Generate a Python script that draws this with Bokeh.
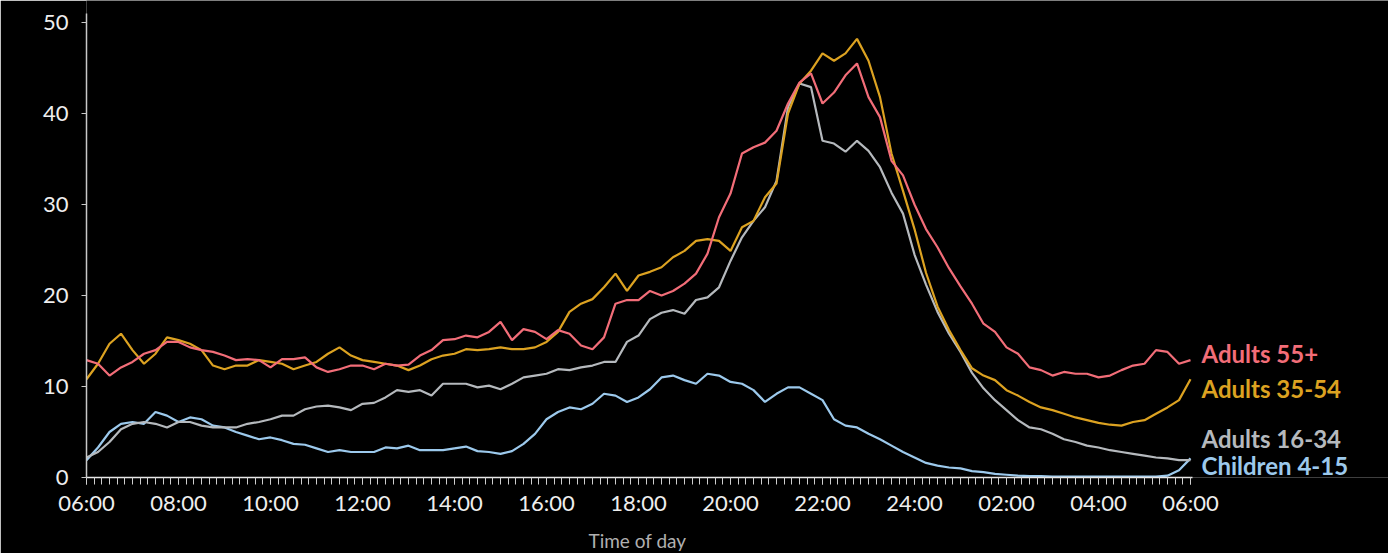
from bokeh.plotting import figure
from bokeh.models import Range1d, FixedTicker, ColumnDataSource, LabelSet, Title
from bokeh.core.properties import value
from bokeh.embed import file_html
from bokeh.resources import INLINE

# time of day in hours from 06:00 (6) to 06:00 next day (30), every 15 minutes
hours = [6 + i * 0.25 for i in range(97)]

adults_55 = [
    12.9, 12.5, 11.2, 12.1, 12.7, 13.6, 14.0, 14.9, 14.9, 14.3, 14.0, 13.8,
    13.4, 12.9, 13.0, 12.9, 12.1, 13.0, 13.0, 13.2, 12.1, 11.6, 11.9, 12.3,
    12.3, 11.9, 12.5, 12.3, 12.4, 13.4, 14.0, 15.1, 15.2, 15.6, 15.4, 16.0,
    17.1, 15.1, 16.3, 16.0, 15.2, 16.2, 15.8, 14.5, 14.1, 15.4, 19.1, 19.5,
    19.5, 20.5, 20.0, 20.5, 21.3, 22.4, 24.6, 28.6, 31.2, 35.6, 36.3, 36.8,
    38.1, 41.1, 43.4, 44.4, 41.1, 42.3, 44.2, 45.5, 41.8, 39.6, 34.8, 33.2,
    30.0, 27.3, 25.3, 23.0, 21.0, 19.1, 16.9, 16.0, 14.3, 13.6, 12.1, 11.8,
    11.2, 11.6, 11.4, 11.4, 11.0, 11.2, 11.8, 12.3, 12.5, 14.0, 13.8, 12.5,
    12.9,
]

adults_35_54 = [
    10.8, 12.5, 14.7, 15.8, 14.0, 12.5, 13.6, 15.4, 15.1, 14.7, 14.0, 12.3,
    11.9, 12.3, 12.3, 12.9, 12.7, 12.5, 11.9, 12.3, 12.7, 13.6, 14.3, 13.4,
    12.9, 12.7, 12.5, 12.3, 11.8, 12.3, 13.0, 13.4, 13.6, 14.1, 14.0, 14.1,
    14.3, 14.1, 14.1, 14.3, 14.9, 16.0, 18.2, 19.1, 19.6, 20.9, 22.4, 20.5,
    22.2, 22.6, 23.1, 24.2, 24.9, 26.0, 26.2, 26.0, 24.9, 27.5, 28.2, 30.8,
    32.3, 40.0, 43.3, 44.7, 46.6, 45.8, 46.6, 48.2, 45.8, 41.8, 35.6, 31.5,
    27.3, 22.5, 18.8, 16.2, 14.0, 12.0, 11.2, 10.7, 9.6, 9.0, 8.3, 7.7,
    7.4, 7.0, 6.6, 6.3, 6.0, 5.8, 5.7, 6.1, 6.3, 7.0, 7.7, 8.5,
    10.8,
]

adults_16_34 = [
    2.2, 2.8, 3.9, 5.3, 5.9, 6.1, 5.9, 5.5, 6.1, 6.1, 5.7, 5.5,
    5.5, 5.5, 5.9, 6.1, 6.4, 6.8, 6.8, 7.5, 7.8, 7.9, 7.7, 7.4,
    8.1, 8.2, 8.8, 9.6, 9.4, 9.6, 9.0, 10.3, 10.3, 10.3, 9.9, 10.1,
    9.7, 10.3, 11.0, 11.2, 11.4, 11.9, 11.8, 12.1, 12.3, 12.7, 12.7, 14.9,
    15.6, 17.4, 18.1, 18.4, 18.0, 19.5, 19.8, 20.9, 23.8, 26.4, 28.2, 29.7,
    32.6, 40.7, 43.3, 42.9, 37.0, 36.7, 35.8, 37.0, 35.9, 34.1, 31.3, 29.0,
    24.5, 21.2, 18.2, 15.8, 13.8, 11.5, 9.8, 8.5, 7.4, 6.3, 5.5, 5.3,
    4.8, 4.2, 3.9, 3.5, 3.3, 3.0, 2.8, 2.6, 2.4, 2.2, 2.1, 1.9,
    1.9,
]

children_4_15 = [
    1.9, 3.3, 5.0, 5.9, 6.1, 5.9, 7.2, 6.8, 6.1, 6.6, 6.4, 5.7,
    5.5, 5.0, 4.6, 4.2, 4.4, 4.1, 3.7, 3.6, 3.2, 2.8, 3.0, 2.8,
    2.8, 2.8, 3.3, 3.2, 3.5, 3.0, 3.0, 3.0, 3.2, 3.4, 2.9, 2.8,
    2.6, 2.9, 3.7, 4.8, 6.4, 7.2, 7.7, 7.5, 8.1, 9.2, 9.0, 8.3,
    8.8, 9.7, 11.0, 11.2, 10.7, 10.3, 11.4, 11.2, 10.5, 10.3, 9.6, 8.3,
    9.2, 9.9, 9.9, 9.2, 8.5, 6.4, 5.7, 5.5, 4.8, 4.2, 3.5, 2.8,
    2.2, 1.6, 1.3, 1.1, 1.0, 0.7, 0.6, 0.4, 0.3, 0.2, 0.15, 0.15,
    0.1, 0.1, 0.1, 0.1, 0.1, 0.1, 0.1, 0.1, 0.1, 0.1, 0.2, 0.8,
    2.1,
]

series_names = ["Children 4-15", "Adults 16-34", "Adults 35-54", "Adults 55+"]
series_values = [children_4_15, adults_16_34, adults_35_54, adults_55]
series_colors = ["#9cc9ec", "#b5b9bd", "#dca221", "#f26d78"]
# vertical positions (data units) of the end labels, spread to avoid overlap
label_y = [1.3, 4.3, 9.8, 13.6]

x_tick_values = [6, 8, 10, 12, 14, 16, 18, 20, 22, 24, 26, 28, 30]
x_tick_labels = ["06:00", "08:00", "10:00", "12:00", "14:00", "16:00", "18:00",
                 "20:00", "22:00", "24:00", "02:00", "04:00", "06:00"]
y_tick_values = [0, 10, 20, 30, 40, 50]

FONT = "Lato"

# frame reaches the top and right edges of the canvas so the end labels sit
# inside it; axes are limited with `bounds` to the drawn span
p = figure(
    frame_width=1302, frame_height=477,
    min_border_left=86, min_border_right=0, min_border_top=0, min_border_bottom=76,
    x_range=Range1d(6, 6 + 1302 / 46), y_range=Range1d(0, 477 / 9.1),
    output_backend="svg", toolbar_location=None,
    background_fill_color="black", border_fill_color="black",
)
p.outline_line_color = None
p.grid.visible = False

# x axis
xa = p.xaxis[0]
xa.bounds = (6 - 9 / 46, 30 + 2 / 46)
xa.ticker = FixedTicker(ticks=x_tick_values,
                        minor_ticks=[6 + i / 6 for i in range(145)])
xa.major_label_overrides = {v: s for v, s in zip(x_tick_values, x_tick_labels)}
xa.axis_line_color = "#e8e8e8"
xa.axis_line_width = 1.5
xa.major_tick_line_color = "#cfcfcf"
xa.minor_tick_line_color = "#cfcfcf"
xa.major_tick_in = 0
xa.major_tick_out = 7
xa.minor_tick_in = 0
xa.minor_tick_out = 7
xa.major_label_text_font = FONT
xa.major_label_text_font_size = "22px"
xa.major_label_text_color = "#eeeeee"
xa.major_label_standoff = 4

# axis title, centred under the 06:00-06:00 span (not the wider frame)
p.add_layout(Title(text="Time of day", align="left", offset=502, standoff=17,
                   text_font=FONT, text_font_size="19px", text_font_style="normal",
                   text_color="#b0b0b0"), "below")

# y axis
ya = p.yaxis[0]
ya.bounds = (0, 51)
ya.ticker = FixedTicker(ticks=y_tick_values, minor_ticks=[])
ya.axis_line_color = "#c8c8c8"
ya.axis_line_width = 1.5
ya.major_tick_line_color = "#c8c8c8"
ya.major_tick_in = 0
ya.major_tick_out = 5
ya.minor_tick_line_color = None
ya.major_label_text_font = FONT
ya.major_label_text_font_size = "22px"
ya.major_label_text_color = "#eeeeee"
ya.major_label_standoff = 13

for name, vals, col in zip(series_names, series_values, series_colors):
    src = ColumnDataSource(dict(x=hours, y=vals))
    p.line("x", "y", source=src, line_color=col, line_width=2.2)

lab_src = ColumnDataSource(dict(
    x=[hours[-1]] * len(series_names),
    y=label_y,
    t=series_names,
    c=series_colors,
))
p.add_layout(LabelSet(x="x", y="y", text="t", source=lab_src, text_color="c",
                      text_font=value(FONT), text_font_style="bold",
                      text_font_size="24px",
                      text_baseline="middle", text_align="left", x_offset=11))

open("out.html", "w").write(file_html(p, INLINE))
